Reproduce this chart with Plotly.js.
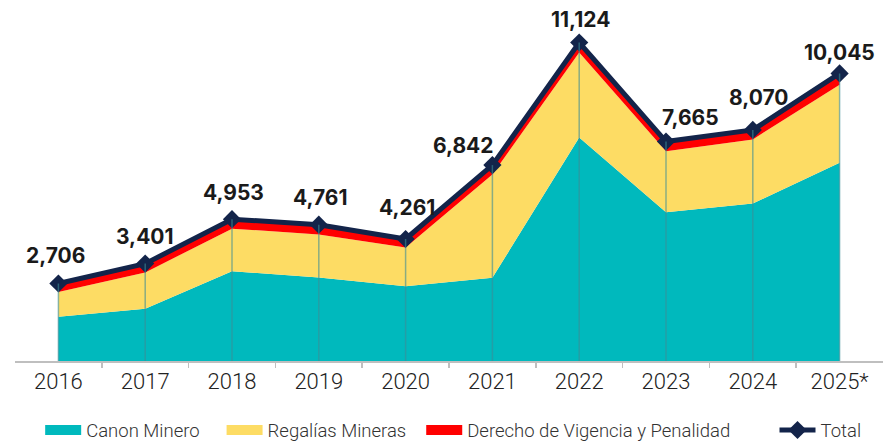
<!DOCTYPE html>
<html>
<head>
<meta charset="utf-8">
<script src="https://cdn.plot.ly/plotly-3.0.1.min.js"></script>
<style>
  html, body { margin: 0; padding: 0; background: #ffffff; }
  #chart { width: 890px; height: 441px; }
</style>
</head>
<body>
<div id="chart"></div>
<script>
const years = ['2016', '2017', '2018', '2019', '2020', '2021', '2022', '2023', '2024', '2025*'];
const canonMinero = [1544, 1823, 3137, 2917, 2613, 2905, 7806, 5197, 5501, 6923];
const regaliasMineras = [862, 1268, 1486, 1504, 1348, 3607, 2968, 2128, 2239, 2722];
const derechoVigencia = [300, 310, 330, 340, 300, 330, 350, 340, 330, 400];
const total = [2706, 3401, 4953, 4761, 4261, 6842, 11124, 7665, 8070, 10045];
const seriesNames = ['Canon Minero', 'Regalías Mineras', 'Derecho de Vigencia y Penalidad', 'Total'];

// label placement offsets (pixels), style only
const labelDx = [-3, 0, 1, 2, 1, -29, 1, 24, 6, 0];
const labelDy = [28, 27, 27, 27, 32, 20, 23, 24, 32, 21];

const xIdx = years.map((y, i) => i);
const boundaries = years.slice(1).map((y, i) => i + 0.5);
const dropX = [], dropY = [];
years.forEach((y, i) => { dropX.push(i, i, null); dropY.push(0, total[i], null); });

const lightFont = 'Roboto, "Liberation Sans", sans-serif';
const colors = ['#00B9BD', '#FDDC64', '#FF0000', '#13244A'];

const traces = [
  { type: 'scatter', mode: 'none', name: seriesNames[0], x: xIdx, y: canonMinero,
    stackgroup: 'one', fillcolor: colors[0], line: { width: 0 }, showlegend: false, hoverinfo: 'skip' },
  { type: 'scatter', mode: 'none', name: seriesNames[1], x: xIdx, y: regaliasMineras,
    stackgroup: 'one', fillcolor: colors[1], line: { width: 0 }, showlegend: false, hoverinfo: 'skip' },
  { type: 'scatter', mode: 'none', name: seriesNames[2], x: xIdx, y: derechoVigencia,
    stackgroup: 'one', fillcolor: colors[2], line: { width: 0 }, showlegend: false, hoverinfo: 'skip' },
  { type: 'scatter', mode: 'lines', x: dropX, y: dropY, xaxis: 'x2', showlegend: false,
    line: { color: 'rgba(60,140,150,0.6)', width: 1.5 }, hoverinfo: 'skip', connectgaps: false },
  { type: 'scatter', mode: 'lines+markers', name: seriesNames[3], x: xIdx, y: total,
    line: { color: colors[3], width: 5 }, legend: 'legend4',
    marker: { symbol: 'diamond', size: 14, color: colors[3] } },
  // legend swatches for the areas
  { type: 'scatter', mode: 'lines', name: seriesNames[0], x: [null], y: [null],
    line: { color: colors[0], width: 12 }, legend: 'legend' },
  { type: 'scatter', mode: 'lines', name: seriesNames[1], x: [null], y: [null],
    line: { color: colors[1], width: 12 }, legend: 'legend2' },
  { type: 'scatter', mode: 'lines', name: seriesNames[2], x: [null], y: [null],
    line: { color: colors[2], width: 12 }, legend: 'legend3' }
];

const annotations = years.map((y, i) => ({
  x: i, y: total[i], xref: 'x', yref: 'y',
  text: total[i].toLocaleString('en-US'),
  showarrow: false, xanchor: 'center', yanchor: 'middle',
  xshift: labelDx[i], yshift: labelDy[i],
  font: { family: 'Inter, Roboto, sans-serif', size: 21, color: '#1a1a1a', weight: 700 }
}));

const legendBase = {
  orientation: 'h', y: -0.148, yanchor: 'top', xanchor: 'left',
  bgcolor: 'rgba(0,0,0,0)', borderwidth: 0, itemwidth: 36,
  font: { family: lightFont, size: 18.5, color: '#333333', weight: 300 }
};
const legendX = [0.029, 0.238, 0.468, 0.875];

const layout = {
  width: 890, height: 441,
  margin: { l: 15, r: 7, t: 20, b: 80, autoexpand: false },
  paper_bgcolor: '#ffffff', plot_bgcolor: '#ffffff',
  showlegend: true,
  legend: Object.assign({}, legendBase, { x: legendX[0] }),
  legend2: Object.assign({}, legendBase, { x: legendX[1] }),
  legend3: Object.assign({}, legendBase, { x: legendX[2] }),
  legend4: Object.assign({}, legendBase, { x: legendX[3] }),
  xaxis: {
    type: 'linear', range: [-0.5, 9.5],
    tickmode: 'array', tickvals: xIdx, ticktext: years, ticks: '',
    showgrid: false, zeroline: false,
    showline: true, linecolor: '#bfbfbf', linewidth: 2,
    tickfont: { family: lightFont, size: 22, color: '#222222', weight: 300 },
    fixedrange: true
  },
  xaxis2: {
    overlaying: 'x', anchor: 'y', range: [-0.5, 9.5], side: 'bottom', type: 'linear',
    tickmode: 'array', tickvals: boundaries, ticktext: boundaries.map(() => ''),
    showticklabels: false,
    ticks: 'outside', ticklen: 6, tickcolor: '#bfbfbf', tickwidth: 1.5,
    showgrid: false, zeroline: false, showline: false, fixedrange: true
  },
  yaxis: {
    range: [0, 11910], visible: false, showgrid: false, zeroline: false, fixedrange: true
  },
  annotations: annotations
};

Plotly.newPlot('chart', traces, layout, { displayModeBar: false, staticPlot: true });
</script>
</body>
</html>
